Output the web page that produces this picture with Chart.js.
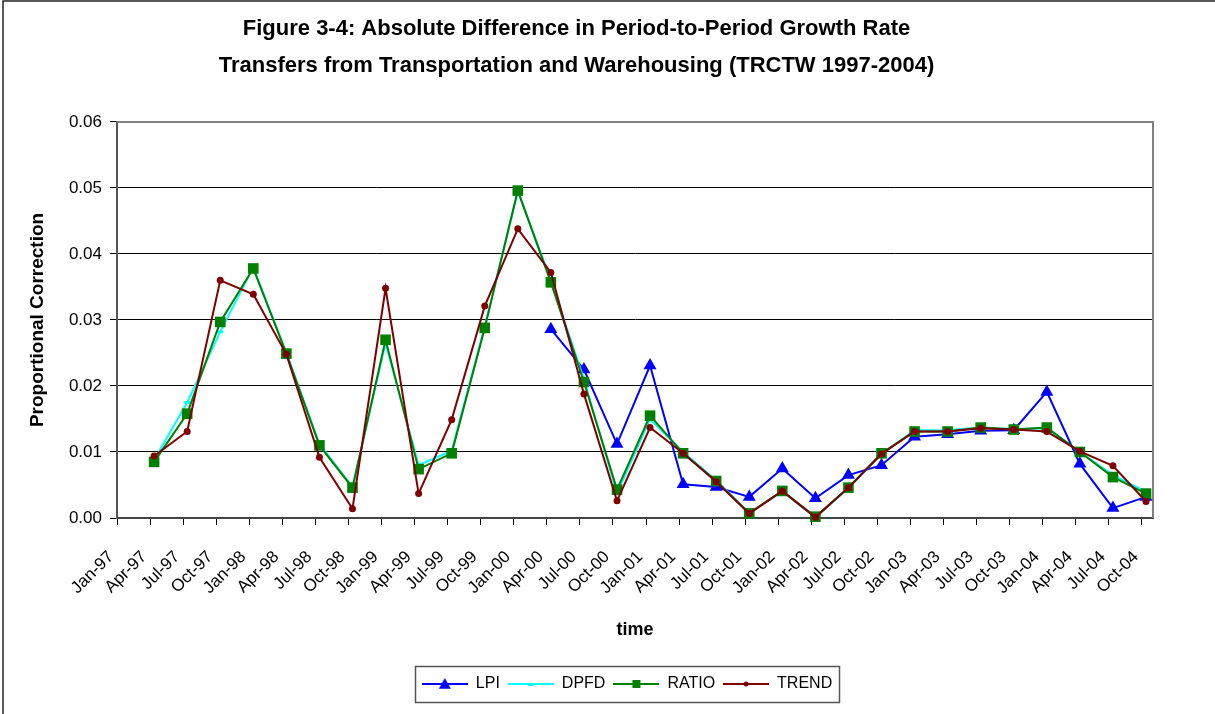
<!DOCTYPE html>
<html>
<head>
<meta charset="utf-8">
<script src="https://cdn.jsdelivr.net/npm/chart.js@4"></script>
<style>
  html, body { margin: 0; padding: 0; background: #fff; }
  #wrap { width: 1215px; height: 714px; position: relative; }
</style>
</head>
<body>
<div id="wrap"><canvas id="chart" width="1215" height="714"></canvas></div>
<script>
// quarterly axis labels, Jan-97 .. Oct-04
const tickLabels = ['Jan-97','Apr-97','Jul-97','Oct-97','Jan-98','Apr-98','Jul-98','Oct-98',
  'Jan-99','Apr-99','Jul-99','Oct-99','Jan-00','Apr-00','Jul-00','Oct-00',
  'Jan-01','Apr-01','Jul-01','Oct-01','Jan-02','Apr-02','Jul-02','Oct-02',
  'Jan-03','Apr-03','Jul-03','Oct-03','Jan-04','Apr-04','Jul-04','Oct-04'];

// observations run Apr-97 .. Oct-04 (one per quarter)
const firstObs = 1;      // index into tickLabels
const obsDay = 12;       // observations are dated around the 12th of the month

const lpi = [null,null,null,null,null,null,null,null,null,null,null,null,
  0.0286,0.0225,0.0112,0.0231,0.0051,0.0047,0.0032,0.0075,0.0030,0.0065,0.0080,
  0.0123,0.0127,0.0132,0.0133,0.0191,0.0082,0.0015,0.0032];
const dpfd = [0.0088,0.0175,0.0282,0.0380,0.0250,0.0112,0.0047,0.0265,0.0080,0.0102,
  0.0290,0.0495,0.0360,0.0210,0.0037,0.0150,0.0100,0.0057,0.0008,0.0040,0.0001,
  0.0045,0.0097,0.0133,0.0133,0.0137,0.0135,0.0136,0.0100,0.0065,0.0040];
const ratio = [0.0085,0.0158,0.0297,0.0378,0.0249,0.0110,0.0046,0.0270,0.0074,0.0098,
  0.0288,0.0496,0.0357,0.0206,0.0043,0.0155,0.0098,0.0056,0.0007,0.0041,0.0002,
  0.0046,0.0098,0.0131,0.0131,0.0137,0.0134,0.0137,0.0100,0.0062,0.0037];
const trend = [0.0094,0.0131,0.0360,0.0339,0.0248,0.0092,0.0014,0.0348,0.0037,0.0149,
  0.0321,0.0438,0.0372,0.0188,0.0026,0.0137,0.0098,0.0055,0.0007,0.0041,0.0001,
  0.0046,0.0097,0.0131,0.0131,0.0136,0.0134,0.0131,0.0101,0.0079,0.0025];

// x in months since Jan-97
function toPoints(arr) {
  return arr.map((v, i) => ({ x: (firstObs + i) * 3 + (obsDay - 1) / 30, y: v }));
}

const FONT = "'Liberation Sans', Arial, sans-serif";

function legendIcon(color, style, size) {
  const c = document.createElement('canvas');
  c.width = 46; c.height = 14;
  const g = c.getContext('2d');
  g.strokeStyle = color; g.fillStyle = color; g.lineWidth = 2;
  g.beginPath(); g.moveTo(0, 7); g.lineTo(46, 7); g.stroke();
  g.beginPath();
  if (style === 'triangle') {
    g.moveTo(23, 7 - size); g.lineTo(23 + size, 7 + size * 0.8); g.lineTo(23 - size, 7 + size * 0.8);
    g.closePath(); g.fill();
  } else if (style === 'rect') {
    g.fillRect(23 - size, 7 - size, size * 2, size * 2);
  } else if (style === 'circle') {
    g.arc(23, 7, size, 0, Math.PI * 2); g.fill();
  } else {
    g.fillRect(23 - size, 6, size * 2, 3);
  }
  return c;
}

const series = [
  { label: 'LPI', data: lpi, color: '#0000ff', style: 'triangle', r: 7.5, lw: 2, order: 4, icon: 6 },
  { label: 'DPFD', data: dpfd, color: '#00ffff', style: 'line', r: 3, lw: 2, order: 3, icon: 3 },
  { label: 'RATIO', data: ratio, color: '#008000', style: 'rect', r: 7.5, lw: 2, order: 2, icon: 4 },
  { label: 'TREND', data: trend, color: '#800000', style: 'circle', r: 3.5, lw: 2, order: 1, icon: 2.5 }
];

const framePlugin = {
  id: 'frame',
  beforeDraw(chart) {
    const ctx = chart.ctx;
    ctx.save();
    ctx.fillStyle = '#fff';
    ctx.fillRect(0, 0, chart.width, chart.height);
    ctx.restore();
  },
  afterLayout(chart) {
    // centre the legend under the plot area, as in the original
    const lg = chart.legend;
    const a = chart.chartArea;
    const shift = (a.left + a.right) / 2 - (lg.left + lg.right) / 2 - 8;
    lg.left += shift;
    lg.right += shift;
  },
  beforeDatasetsDraw(chart) {
    const a = chart.chartArea, ctx = chart.ctx;
    ctx.save();
    ctx.strokeStyle = '#808080';
    ctx.lineWidth = 2;
    ctx.beginPath();
    ctx.moveTo(a.left, a.top);
    ctx.lineTo(a.right, a.top);
    ctx.lineTo(a.right, a.bottom);
    ctx.stroke();
    ctx.restore();
  },
  afterDraw(chart) {
    const ctx = chart.ctx;
    ctx.save();
    // outer frame (top and left)
    ctx.strokeStyle = '#222';
    ctx.lineWidth = 1.5;
    ctx.beginPath();
    ctx.moveTo(3, chart.height);
    ctx.lineTo(3, 1);
    ctx.lineTo(chart.width, 1);
    ctx.stroke();
    // legend box
    const boxes = chart.legend.legendHitBoxes;
    if (boxes && boxes.length) {
      const l = Math.min(...boxes.map(b => b.left)) - 7;
      const r = Math.max(...boxes.map(b => b.left + b.width)) + 7;
      const t = Math.min(...boxes.map(b => b.top)) - 10;
      const btm = Math.max(...boxes.map(b => b.top + b.height)) + 10;
      ctx.strokeStyle = '#555';
      ctx.lineWidth = 1.5;
      ctx.strokeRect(Math.round(l) + 0.5, Math.round(t) + 0.5, Math.round(r - l), Math.round(btm - t));
    }
    ctx.restore();
  }
};

new Chart(document.getElementById('chart'), {
  type: 'line',
  data: {
    datasets: series.map(s => ({
      label: s.label,
      data: toPoints(s.data),
      borderColor: s.color,
      backgroundColor: s.color,
      borderWidth: s.lw,
      pointStyle: s.style,
      pointRadius: s.r,
      pointBorderWidth: s.style === 'line' ? 3 : 0,
      pointBorderColor: s.color,
      pointBackgroundColor: s.color,
      tension: 0,
      fill: false,
      clip: false,
      order: s.order
    }))
  },
  options: {
    responsive: false,
    animation: false,
    events: [],
    layout: { padding: { left: 0, right: 62, top: 0, bottom: 12 } },
    scales: {
      x: {
        type: 'linear',
        min: 0,
        max: 94,
        afterBuildTicks(scale) {
          scale.ticks = tickLabels.map((_, i) => ({ value: i * 3 }));
        },
        afterFit(scale) { scale.height = 150; },
        ticks: {
          autoSkip: false,
          maxRotation: 45,
          minRotation: 45,
          padding: 22,
          labelOffset: -6,
          color: '#000',
          font: { family: FONT, size: 17 },
          callback: (v) => tickLabels[Math.round(v / 3)]
        },
        grid: { drawOnChartArea: false, drawTicks: true, tickLength: 7, color: '#000' },
        border: { display: true, color: '#444', width: 2 },
        title: {
          display: true,
          text: 'time',
          color: '#000',
          font: { family: FONT, size: 18, weight: 'bold' },
          padding: { top: 0, bottom: 27 }
        }
      },
      y: {
        min: 0,
        max: 0.06,
        afterFit(scale) { scale.width = 117; },
        ticks: {
          stepSize: 0.01,
          padding: 8,
          color: '#000',
          font: { family: FONT, size: 17 },
          callback: (v) => v.toFixed(2)
        },
        grid: {
          color: (c) => (c.tick && (c.tick.value === 0 || c.tick.value > 0.055)) ? 'rgba(0,0,0,0)' : '#000',
          tickColor: '#000',
          lineWidth: 1,
          tickLength: 7
        },
        border: { display: true, color: '#555', width: 2 },
        title: {
          display: true,
          text: 'Proportional Correction',
          color: '#000',
          font: { family: FONT, size: 19, weight: 'bold' },
          padding: { top: 26, bottom: 0 }
        }
      }
    },
    plugins: {
      title: {
        display: true,
        text: ['Figure 3-4: Absolute Difference in Period-to-Period Growth Rate',
               'Transfers from Transportation and Warehousing (TRCTW 1997-2004)'],
        color: '#000',
        font: { family: FONT, size: 22, weight: 'bold', lineHeight: 1.68 },
        padding: { top: 10, bottom: 38 }
      },
      legend: {
        position: 'bottom',
        labels: {
          usePointStyle: true,
          pointStyleWidth: 46,
          padding: 8,
          color: '#000',
          font: { family: FONT, size: 16 },
          generateLabels(chart) {
            return series.map((s, i) => ({
              text: s.label,
              datasetIndex: i,
              pointStyle: legendIcon(s.color, s.style, s.icon),
              fillStyle: s.color,
              strokeStyle: s.color,
              lineWidth: 0,
              hidden: false,
              fontColor: '#000'
            }));
          }
        }
      },
      tooltip: { enabled: false }
    }
  },
  plugins: [framePlugin]
});
</script>
</body>
</html>
